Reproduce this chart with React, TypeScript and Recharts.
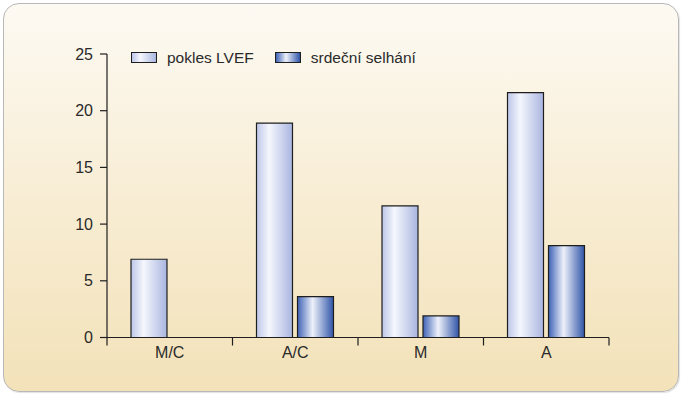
import React from 'react';
import { BarChart, Bar, XAxis, YAxis, Legend } from 'recharts';

const categories = ['M/C', 'A/C', 'M', 'A'];
const poklesLVEF = [6.9, 18.9, 11.6, 21.6];
const srdecniSelhani: (number | null)[] = [null, 3.6, 1.9, 8.1];
const yTicks = [0, 5, 10, 15, 20, 25];
const seriesNames = ['pokles LVEF', 'srdeční selhání'];

const data = categories.map((name, i) => ({
  name,
  pokles: poklesLVEF[i],
  srdecni: srdecniSelhani[i],
}));

const FONT = '"Liberation Sans", Arial, Helvetica, sans-serif';
const TEXT = '#2a2a2a';
const AXIS = '#1e1e1e';

const CHART_W = 683;
const CHART_H = 396;
const X_H = 30;
const MARGIN = { top: 54, right: 74, bottom: 58.5 - X_H, left: 47 };
const Y_W = 60;
const BAND = (CHART_W - MARGIN.left - MARGIN.right - Y_W) / categories.length;

const iconBg = [
  'linear-gradient(to right, #bcc6e8 0%, #f5f7fd 35%, #aab6e0 100%)',
  'linear-gradient(to right, #3e62b6 0%, #eef1fa 42%, #2f54a8 100%)',
];

const LegendContent = () => (
  <div
    style={{
      display: 'flex',
      alignItems: 'center',
      fontFamily: FONT,
      fontSize: 15.5,
      color: TEXT,
      whiteSpace: 'nowrap',
      lineHeight: '17px',
    }}
  >
    {seriesNames.map((n, i) => (
      <div key={n} style={{ display: 'flex', alignItems: 'center', marginRight: i === 0 ? 21 : 0 }}>
        <span
          style={{
            display: 'inline-block',
            width: 26,
            height: 11,
            boxSizing: 'border-box',
            border: `1px solid ${AXIS}`,
            background: iconBg[i],
            marginRight: 10,
          }}
        />
        <span>{n}</span>
      </div>
    ))}
  </div>
);

const CatTick = (props: any) => {
  const { x, y, payload, index } = props;
  const axisY = y - 9;
  const left = x - BAND / 2;
  const right = x + BAND / 2;
  return (
    <g>
      <line x1={left} y1={axisY} x2={left} y2={axisY + 8} stroke={AXIS} strokeWidth={1.2} />
      {index === categories.length - 1 && (
        <line x1={right} y1={axisY} x2={right} y2={axisY + 8} stroke={AXIS} strokeWidth={1.2} />
      )}
      <text x={x} y={y} dy="0.71em" textAnchor="middle" fill={TEXT} fontSize={16} fontFamily={FONT}>
        {payload.value}
      </text>
    </g>
  );
};

export default function App() {
  return (
    <div style={{ position: 'relative', width: CHART_W, height: CHART_H }}>
      <style>{'body{margin:0}'}</style>
      <div
        style={{
          position: 'absolute',
          left: 3,
          top: 3,
          width: 676,
          height: 389,
          boxSizing: 'border-box',
          border: '1.5px solid #b8b8b8',
          borderRadius: 16,
          background: 'linear-gradient(to bottom, #fdfaf3 0%, #f8edd4 50%, #f3e2b9 100%)',
          boxShadow: '1px 1px 1px rgba(0,0,0,0.12)',
        }}
      />
      <div style={{ position: 'absolute', left: 0, top: 0 }}>
        <BarChart
          width={CHART_W}
          height={CHART_H}
          data={data}
          margin={MARGIN}
          barSize={36}
          barGap={5}
        >
          <defs>
            <linearGradient id="gPokles" x1="0" y1="0" x2="1" y2="0">
              <stop offset="0%" stopColor="#bcc6e8" />
              <stop offset="35%" stopColor="#f5f7fd" />
              <stop offset="100%" stopColor="#a9b5e0" />
            </linearGradient>
            <linearGradient id="gSrdecni" x1="0" y1="0" x2="1" y2="0">
              <stop offset="0%" stopColor="#3e62b6" />
              <stop offset="42%" stopColor="#eef1fa" />
              <stop offset="100%" stopColor="#2f54a8" />
            </linearGradient>
          </defs>
          <XAxis
            dataKey="name"
            height={X_H}
            axisLine={{ stroke: AXIS, strokeWidth: 1.2 }}
            tickLine={false}
            tickSize={0}
            tickMargin={9}
            interval={0}
            tick={<CatTick />}
          />
          <YAxis
            domain={[0, 25]}
            ticks={yTicks}
            width={Y_W}
            tickSize={7}
            tickMargin={7}
            axisLine={{ stroke: AXIS, strokeWidth: 1.2 }}
            tickLine={{ stroke: AXIS, strokeWidth: 1.2 }}
            tick={{ fill: TEXT, fontSize: 16, fontFamily: FONT }}
          />
          <Legend
            layout="horizontal"
            verticalAlign="middle"
            align="center"
            content={<LegendContent />}
            wrapperStyle={{ left: 131, top: 49, width: 'auto' }}
          />
          <Bar
            dataKey="pokles"
            name={seriesNames[0]}
            fill="url(#gPokles)"
            stroke={AXIS}
            strokeWidth={1.2}
            isAnimationActive={false}
          />
          <Bar
            dataKey="srdecni"
            name={seriesNames[1]}
            fill="url(#gSrdecni)"
            stroke={AXIS}
            strokeWidth={1.2}
            isAnimationActive={false}
          />
        </BarChart>
      </div>
    </div>
  );
}
